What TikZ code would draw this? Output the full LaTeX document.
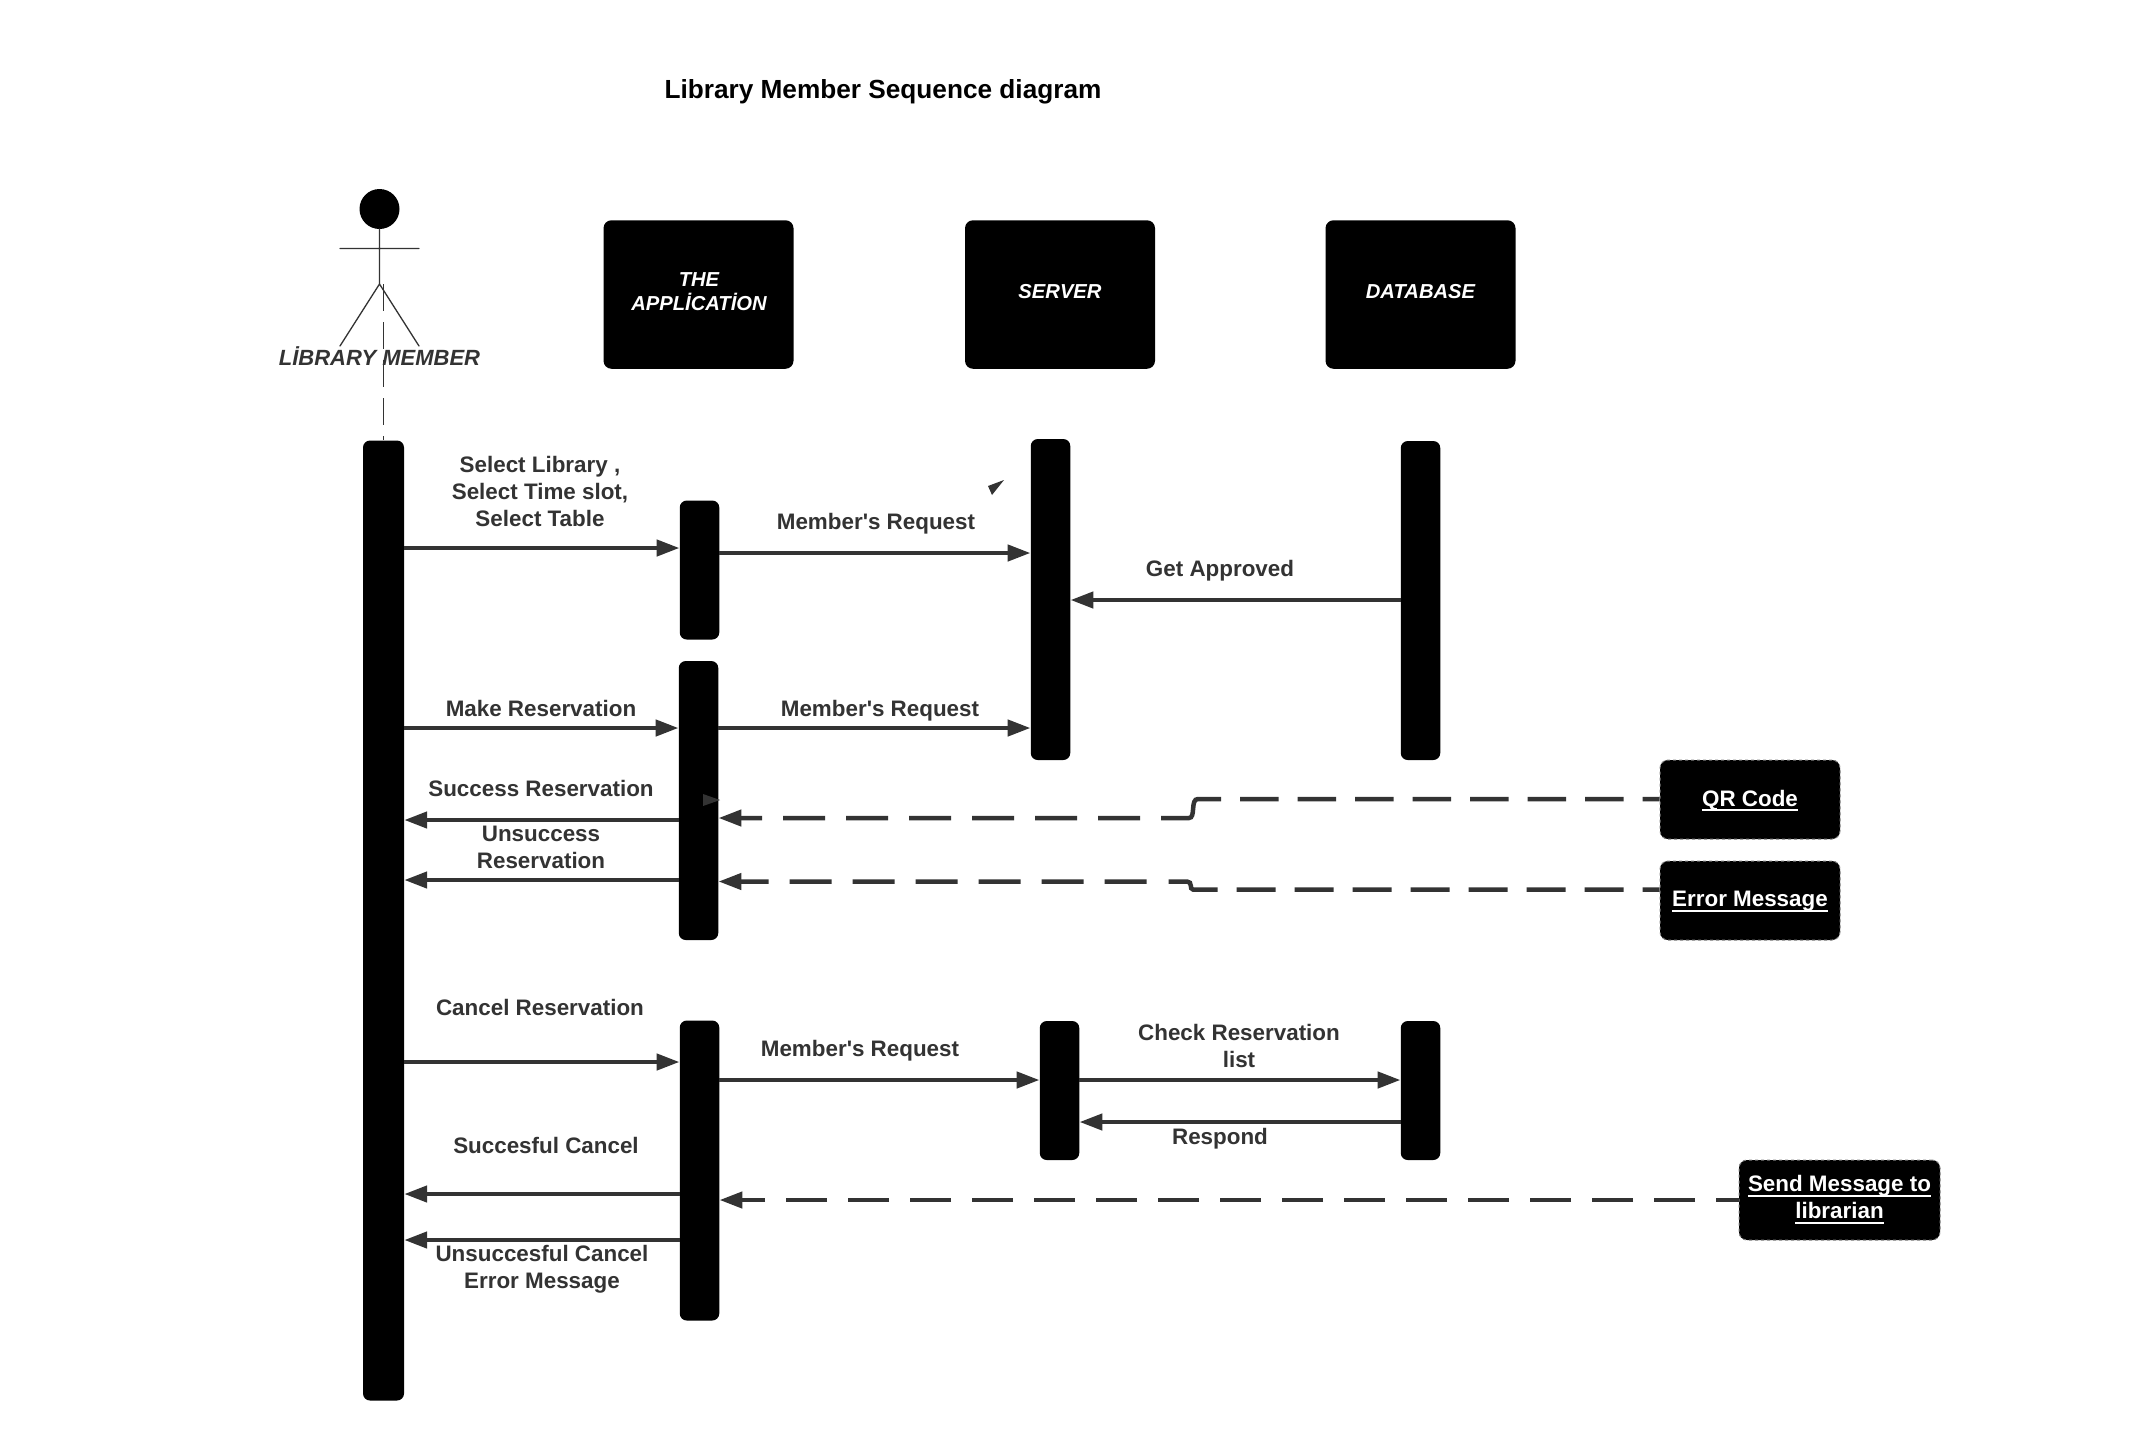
\documentclass[tikz,border=0pt]{standalone}
\usepackage{fontspec}
\newfontfamily\lms{Liberation Sans}
\setmainfont{Liberation Sans}
\usetikzlibrary{arrows.meta}
\definecolor{ink}{HTML}{333333}
\newcommand{\ulinetxt}[1]{\setbox0=\hbox{#1}\hbox{\rlap{\vrule width\wd0 height -3pt depth 5pt}#1}}
\tikzset{
  bar/.style={fill=black,draw=none,rounded corners=7pt,inner sep=0pt,minimum width=39.5pt},
  headbox/.style={fill=black,draw=none,rounded corners=8pt,inner sep=0pt,minimum width=190pt,minimum height=148.5pt,align=center,text=white,font=\fontsize{20.2}{24}\selectfont\lms\bfseries\itshape},
  headtxt/.style={inner sep=0pt,align=center,text=white,font=\fontsize{20.2}{24}\selectfont\lms\bfseries\itshape},
  notebox/.style={fill=black,draw=gray,dash pattern=on 3pt off 3pt,line width=1pt,rounded corners=8pt,inner sep=0pt},
  lbl/.style={inner sep=0pt,align=center,text=ink,font=\fontsize{22.4}{27}\selectfont\lms\bfseries},
  msg/.style={draw=ink,line width=4.5pt,-{Triangle[length=23pt,width=16pt]}},
  stick/.style={draw=ink,line width=1.3pt,line cap=round}
}
\begin{document}
\begin{tikzpicture}[x=1pt,y=-1pt]
\useasboundingbox[fill=white] (0,0) rectangle (2156,1452);
\node[lbl,text=black,font=\fontsize{26.2}{32}\selectfont\lms\bfseries] (title) at (883,91.5) {Library Member Sequence diagram};
% actor
\fill[black] (379.5,209) circle (20);
\coordinate (neck) at (379.5,229);
\coordinate (hip) at (379.5,284);
\draw[stick] (neck) -- (hip) (340,248.5) -- (419,248.5) (340,346) -- (hip) -- (419,346);
% lifeline
\coordinate (lifetop) at (383.5,284);
% headers
\node[headbox] (app) at (698.5,294.5) {};
\node[headtxt] (appt) at (699,292) {THE\\APPLİCATİON};
\node[headbox] (srv) at (1060,294.5) {};
\node[headtxt] (srvt) at (1060,292) {SERVER};
\node[headbox] (db) at (1420.5,294.5) {};
\node[headtxt] (dbt) at (1420.5,292) {DATABASE};
% bars
\node[bar,minimum width=41pt,minimum height=960pt] (A) at (383.5,920.5) {};
\node[bar,minimum height=139pt] (B1) at (699.5,570) {};
\node[bar,minimum height=279pt] (B2) at (698.5,800.5) {};
\node[bar,minimum height=300pt] (B3) at (699.5,1170.5) {};
\node[bar,minimum height=321pt] (S1) at (1050.5,599.5) {};
\node[bar,minimum height=139pt] (S2) at (1059.5,1090.5) {};
\node[bar,minimum height=319pt] (D1) at (1420.5,600.5) {};
\node[bar,minimum height=139pt] (D2) at (1420.5,1090.5) {};
\draw[draw=ink,line width=1.3pt,dash pattern=on 27pt off 11pt] (lifetop) -- (A.north);
\node[inner sep=0pt,text=ink,font=\fontsize{22}{27}\selectfont\lms\bfseries\itshape] (actor) at (379.5,356.5) {LİBRARY MEMBER};
% notes
\node[notebox,minimum width=180pt,minimum height=79pt] (qr) at (1750,799.5) {};
\node[lbl,text=white] (qrt) at (1750,800.5) {\ulinetxt{QR Code}};
\node[notebox,minimum width=180pt,minimum height=79pt] (err) at (1750,900.5) {};
\node[lbl,text=white] (errt) at (1750,901.5) {\ulinetxt{Error Message}};
\node[notebox,minimum width=201pt,minimum height=80pt] (send) at (1839.5,1200) {};
\node[lbl,text=white] (sendt) at (1839.5,1199.5) {\ulinetxt{Send Message to}\\\ulinetxt{librarian}};
% messages
\draw[msg] (A.east |- 0,548) -- (B1.west |- 0,548);
\draw[msg] (B1.east |- 0,553) -- (S1.west |- 0,553);
\draw[msg] (D1.west |- 0,600) -- (S1.east |- 0,600);
\draw[msg] (A.east |- 0,728) -- (B2.west |- 0,728);
\draw[msg] (B2.east |- 0,728) -- (S1.west |- 0,728);
\draw[msg] (B2.west |- 0,820) -- (A.east |- 0,820);
\draw[msg] (B2.west |- 0,880) -- (A.east |- 0,880);
\draw[msg,dash pattern=on 17pt off 19pt on 38.5pt off 19pt on 38.5pt off 19pt on 38.5pt off 19pt on 38.5pt off 19pt on 38.5pt off 19pt on 38.5pt off 19pt on 38.5pt off 19pt on 74pt off 21pt on 42pt off 21pt on 42pt off 21pt on 42pt off 21pt on 42pt off 21pt on 42pt off 21pt on 42pt off 21pt on 100pt off 1pt]
  (qr.west |- 0,799) -- (1198,799) .. controls (1190,799) and (1196,818) .. (1189,818) -- (B2.east |- 0,818);
\draw[msg,dash pattern=on 17pt off 19pt on 39pt off 19pt on 39pt off 19pt on 39pt off 19pt on 39pt off 19pt on 39pt off 19pt on 39pt off 19pt on 39pt off 19pt on 54pt off 22pt on 42pt off 21pt on 42pt off 21pt on 42pt off 21pt on 42pt off 21pt on 42pt off 21pt on 42pt off 21pt on 100pt off 1pt]
  (err.west |- 0,889.5) -- (1193,889.5) .. controls (1189,889.5) and (1193,881.5) .. (1187,881.5) -- (B2.east |- 0,881.5);
\draw[msg] (A.east |- 0,1062) -- (B3.west |- 0,1062);
\draw[msg] (B3.east |- 0,1080) -- (S2.west |- 0,1080);
\draw[msg] (S2.east |- 0,1080) -- (D2.west |- 0,1080);
\draw[msg] (D2.west |- 0,1122) -- (S2.east |- 0,1122);
\draw[msg] (B3.west |- 0,1194) -- (A.east |- 0,1194);
\draw[msg] (B3.west |- 0,1240) -- (A.east |- 0,1240);
\draw[msg,dash pattern=on 41.5pt off 20.5pt,dash phase=18.5pt] (send.west |- 0,1200) -- (B3.east |- 0,1200);
% stray arrowheads
\fill[ink] (1004,480) -- (988,486) -- (992,495) -- cycle;
\fill[ink] (720,800) -- (703,794) -- (703,806) -- cycle;
% labels
\node[lbl] (l1) at (540,491.6) {Select Library ,\\Select Time slot,\\Select Table};
\node[lbl] (l2) at (876,523.5) {Member's Request};
\node[lbl] (l3) at (1220,570.5) {Get Approved};
\node[lbl] (l4) at (541,708) {Make Reservation};
\node[lbl] (l5) at (880,710.5) {Member's Request};
\node[lbl] (l6) at (541,788) {Success Reservation};
\node[lbl] (l7) at (541,847) {Unsuccess\\Reservation};
\node[lbl] (l8) at (540,1007) {Cancel Reservation};
\node[lbl] (l9) at (860,1050.5) {Member's Request};
\node[lbl] (l10) at (1239,1045.5) {Check Reservation\\list};
\node[lbl] (l11) at (1220,1138.5) {Respond};
\node[lbl] (l12) at (546,1145) {Succesful Cancel};
\node[lbl] (l13) at (542,1269.5) {Unsuccesful Cancel\\Error Message};
\end{tikzpicture}
\end{document}
